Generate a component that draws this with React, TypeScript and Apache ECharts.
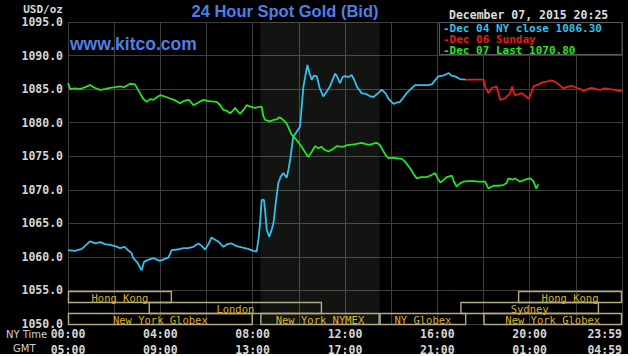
import React, { useEffect, useRef } from "react";
import * as echarts from "echarts";

// ---- data (hours after 00:00 NY time, USD/oz) ----
const dec04Hours = [0, 0.3, 0.6, 0.95, 1.2, 1.39, 1.6, 1.82, 2.05, 2.25, 2.45, 2.6, 2.75, 2.83, 3.0, 3.19, 3.3, 3.5, 3.7, 3.85, 3.99, 4.2, 4.35, 4.49, 4.75, 5.0, 5.2, 5.43, 5.65, 5.8, 5.94, 6.1, 6.22, 6.35, 6.51, 6.73, 6.9, 7.09, 7.3, 7.53, 7.8, 8.03, 8.17, 8.25, 8.32, 8.39, 8.49, 8.55, 8.61, 8.72, 8.8, 8.9, 9.0, 9.11, 9.22, 9.33, 9.47, 9.55, 9.62, 9.76, 9.9, 10.05, 10.2, 10.37, 10.45, 10.56, 10.65, 10.78, 10.9, 11.06, 11.2, 11.35, 11.57, 11.64, 11.78, 11.9, 12.0, 12.15, 12.29, 12.4, 12.51, 12.72, 12.9, 13.05, 13.23, 13.4, 13.59, 13.75, 13.88, 14.1, 14.25, 14.38, 14.5, 14.67, 14.85, 15.03, 15.2, 15.39, 15.6, 15.76, 15.9, 16.04, 16.25, 16.5, 16.6, 16.77, 16.98, 17.23];
const dec04Values = [1061.0, 1060.9, 1061.2, 1062.3, 1062.0, 1062.2, 1061.9, 1061.8, 1061.6, 1061.3, 1061.5, 1061.0, 1060.6, 1059.8, 1059.2, 1058.0, 1059.3, 1059.6, 1059.8, 1059.6, 1059.4, 1059.7, 1059.9, 1061.0, 1061.1, 1061.3, 1061.3, 1061.5, 1062.0, 1061.6, 1061.1, 1062.0, 1062.9, 1062.6, 1062.3, 1061.5, 1061.9, 1062.0, 1061.6, 1061.4, 1061.2, 1060.9, 1060.8, 1062.5, 1065.0, 1068.5, 1068.5, 1066.5, 1064.0, 1063.0, 1063.8, 1065.0, 1068.0, 1071.0, 1072.0, 1072.5, 1071.8, 1073.0, 1074.4, 1077.9, 1078.6, 1079.4, 1085.4, 1088.6, 1087.5, 1086.4, 1087.0, 1086.9, 1085.2, 1083.9, 1084.6, 1085.4, 1087.3, 1087.0, 1085.9, 1086.8, 1086.95, 1086.8, 1087.1, 1086.4, 1085.4, 1084.4, 1084.3, 1084.0, 1083.8, 1084.3, 1084.9, 1084.4, 1083.6, 1082.8, 1083.0, 1083.1, 1083.6, 1084.4, 1085.0, 1085.6, 1085.6, 1085.6, 1085.6, 1085.7, 1086.3, 1086.9, 1087.0, 1087.4, 1087.0, 1086.9, 1086.5, 1086.4];

const dec06Hours = [17.23, 17.6, 18.0, 18.07, 18.21, 18.36, 18.5, 18.57, 18.72, 18.93, 19.15, 19.24, 19.3, 19.37, 19.5, 19.66, 19.8, 19.95, 20.05, 20.16, 20.38, 20.55, 20.74, 20.9, 21.1, 21.3, 21.46, 21.6, 21.82, 22.04, 22.2, 22.33, 22.5, 22.69, 22.9, 23.05, 23.25, 23.48, 23.7, 23.92, 24];
const dec06Values = [1086.4, 1086.4, 1086.4, 1085.4, 1084.4, 1085.2, 1085.3, 1085.4, 1083.4, 1083.6, 1084.4, 1085.4, 1084.6, 1084.1, 1084.2, 1084.4, 1084.0, 1083.6, 1084.2, 1085.4, 1085.7, 1086.0, 1086.1, 1086.3, 1086.1, 1085.6, 1085.1, 1085.3, 1085.5, 1085.2, 1085.0, 1084.7, 1085.0, 1085.2, 1085.0, 1084.9, 1085.1, 1085.0, 1084.9, 1084.7, 1084.8];

const dec07Hours = [0, 0.1, 0.3, 0.52, 0.75, 0.95, 1.15, 1.39, 1.6, 1.82, 2.05, 2.25, 2.45, 2.69, 2.9, 3.12, 3.25, 3.41, 3.55, 3.7, 3.85, 3.99, 4.2, 4.42, 4.6, 4.85, 5.0, 5.21, 5.3, 5.43, 5.65, 5.86, 6.1, 6.44, 6.6, 6.73, 6.85, 7.02, 7.15, 7.24, 7.35, 7.45, 7.6, 7.74, 7.9, 8.1, 8.25, 8.39, 8.46, 8.54, 8.75, 8.9, 9.04, 9.15, 9.26, 9.47, 9.69, 9.91, 10.12, 10.25, 10.41, 10.55, 10.7, 10.85, 10.99, 11.1, 11.28, 11.45, 11.64, 11.9, 12.05, 12.22, 12.45, 12.72, 12.9, 13.08, 13.25, 13.37, 13.5, 13.59, 13.75, 13.88, 14.05, 14.24, 14.46, 14.6, 14.82, 15.0, 15.11, 15.3, 15.54, 15.7, 15.9, 16.0, 16.12, 16.25, 16.41, 16.63, 16.72, 16.84, 17.0, 17.13, 17.35, 17.56, 17.8, 18.07, 18.21, 18.43, 18.65, 18.86, 19.0, 19.08, 19.25, 19.37, 19.58, 19.8, 20.02, 20.16, 20.28, 20.38];
const dec07Values = [1085.9, 1085.0, 1085.1, 1085.0, 1085.3, 1085.6, 1085.2, 1084.9, 1085.0, 1085.2, 1085.3, 1085.4, 1085.3, 1085.8, 1085.7, 1084.4, 1083.6, 1083.1, 1083.5, 1083.4, 1083.8, 1084.1, 1083.9, 1083.6, 1083.4, 1082.9, 1083.2, 1083.4, 1083.2, 1082.6, 1083.0, 1083.4, 1083.2, 1083.1, 1082.6, 1081.9, 1081.8, 1081.4, 1081.8, 1082.2, 1081.7, 1081.3, 1081.9, 1082.6, 1082.4, 1082.2, 1082.3, 1082.4, 1081.0, 1080.4, 1080.2, 1080.4, 1080.5, 1080.8, 1080.6, 1079.9, 1078.2, 1077.4, 1076.4, 1075.7, 1074.9, 1075.6, 1076.5, 1076.2, 1076.4, 1076.0, 1075.7, 1076.0, 1076.5, 1076.4, 1076.6, 1076.7, 1076.8, 1077.0, 1076.8, 1076.7, 1076.9, 1077.0, 1076.7, 1076.2, 1075.2, 1074.7, 1074.8, 1074.7, 1074.6, 1074.2, 1073.2, 1072.2, 1071.7, 1071.9, 1071.9, 1072.1, 1072.5, 1071.8, 1071.1, 1071.4, 1071.9, 1072.1, 1071.2, 1070.5, 1071.0, 1071.2, 1071.3, 1071.3, 1071.2, 1071.2, 1070.2, 1070.6, 1070.6, 1070.7, 1071.0, 1071.7, 1071.5, 1071.7, 1071.2, 1071.5, 1071.7, 1071.3, 1070.2, 1070.8];

const legendLabels = ["-Dec 04 NY close 1086.30", "-Dec 06 Sunday", "-Dec 07 Last 1070.80"];
const nyTimeLabels = ["00:00", "04:00", "08:00", "12:00", "16:00", "20:00", "23:59"];
const gmtLabels = ["05:00", "09:00", "13:00", "17:00", "21:00", "01:00", "04:59"];

// market sessions: start hour, end hour, row (0 = top)
const marketNames = ["Hong Kong", "London", "New York Globex", "New York NYMEX", "NY Globex", "Sydney", "Hong Kong", "New York Globex"];
const marketStart = [0, 3.5, 0, 8.333, 13.5, 17, 19.5, 18];
const marketEnd = [4.5, 11, 8, 13.5, 17.25, 23, 24, 24];
const marketRow = [0, 1, 2, 2, 2, 1, 0, 2];

const nymexShade = [8.333, 13.5];

const title = "24 Hour Spot Gold (Bid)";
const site = "www.kitco.com";
const stamp = "December 07, 2015 20:25";

const C_CYAN = "#33c0ec";
const C_RED = "#e81c1c";
const C_GREEN = "#22e622";
const MONO = '"DejaVu Sans Mono", monospace';

function pair(h: number[], v: number[]) {
  return h.map((x, i) => [x, v[i]]);
}

export default function App() {
  const ref = useRef<HTMLDivElement>(null);
  useEffect(() => {
    if (!ref.current) return;
    const chart = echarts.init(ref.current, null, { renderer: "svg" });
    const marketData = marketNames.map((n, i) => [marketStart[i], marketEnd[i], marketRow[i]]);
    const option: any = {
      animation: false,
      backgroundColor: "transparent",
      grid: { left: 68, right: 12, top: 22, bottom: 32, outerBoundsMode: "none" },
      xAxis: [
        {
          type: "value", min: 0, max: 24, interval: 2, position: "bottom",
          axisLine: { show: false }, axisTick: { show: false },
          splitLine: { show: true, lineStyle: { color: "#3e3e3e", width: 1 } },
          axisLabel: {
            margin: 4, color: "#d6d6d6", fontFamily: MONO, fontWeight: "bold", fontSize: 11.5,
            showMaxLabel: true, alignMaxLabel: "right",
            formatter: (v: number) => (v % 4 === 0 ? nyTimeLabels[v / 4] : ""),
          },
        },
        {
          type: "value", min: 0, max: 24, interval: 2, position: "bottom", offset: 15.5,
          axisLine: { show: false }, axisTick: { show: false }, splitLine: { show: false },
          axisLabel: {
            margin: 4, color: "#d6d6d6", fontFamily: MONO, fontWeight: "bold", fontSize: 11.5,
            showMaxLabel: true, alignMaxLabel: "right",
            formatter: (v: number) => (v % 4 === 0 ? gmtLabels[v / 4] : ""),
          },
        },
      ],
      yAxis: {
        type: "value", min: 1050, max: 1095, interval: 5,
        axisLine: { show: false }, axisTick: { show: false },
        splitLine: { show: true, lineStyle: { color: "#3e3e3e", width: 1 } },
        axisLabel: {
          margin: 5, color: "#d6d6d6", fontFamily: MONO, fontWeight: "bold", fontSize: 11.5,
          formatter: (v: number) => v.toFixed(1),
        },
      },
      series: [
        {
          type: "line", name: "shade", data: [], silent: true,
          markArea: {
            silent: true,
            itemStyle: { color: "rgba(205,235,205,0.085)" },
            data: [[{ xAxis: nymexShade[0] }, { xAxis: nymexShade[1] }]],
          },
        },
        {
          type: "custom", silent: true, z: 3,
          data: marketData,
          renderItem: (params: any, api: any) => {
            const s = api.value(0), e = api.value(1), row = api.value(2);
            const p0 = api.coord([s, 1050]);
            const p1 = api.coord([e, 1050]);
            const rowH = 11;
            const yTop = p0[1] - (3 - row) * rowH;
            const name = marketNames[params.dataIndex];
            return {
              type: "group",
              children: [
                {
                  type: "rect",
                  shape: { x: p0[0] + 0.5, y: yTop + 0.5, width: p1[0] - p0[0] - 1, height: rowH },
                  style: { fill: "none", stroke: "#b4ab7e", lineWidth: 1.4 },
                },
                {
                  type: "text",
                  style: {
                    text: name, x: (p0[0] + p1[0]) / 2, y: yTop + rowH / 2 + 1,
                    align: "center", verticalAlign: "middle", textAlign: "center", textVerticalAlign: "middle",
                    fill: "#deb022", font: '10.5px "DejaVu Sans Mono"',
                  },
                },
              ],
            };
          },
        },
        { type: "line", name: "Dec 04", data: pair(dec04Hours, dec04Values), showSymbol: false, z: 5, lineStyle: { color: C_CYAN, width: 1.8 } },
        { type: "line", name: "Dec 06", data: pair(dec06Hours, dec06Values), showSymbol: false, z: 5, lineStyle: { color: C_RED, width: 1.8 } },
        { type: "line", name: "Dec 07", data: pair(dec07Hours, dec07Values), showSymbol: false, z: 6, lineStyle: { color: C_GREEN, width: 1.8 } },
      ],
      graphic: [
        {
          type: "rect", z: 10, shape: { x: 439.5, y: 22.5, width: 182.5, height: 32 },
          style: { fill: "#000", stroke: "#5a5a5a", lineWidth: 1 },
        },
        {
          type: "text", z: 11, x: 285, y: 11,
          style: { text: title, fill: "#4d7fea", font: 'bold 16.5px "Liberation Sans", Arial, sans-serif', textAlign: "center", textVerticalAlign: "middle", align: "center", verticalAlign: "middle" },
        },
        {
          type: "text", z: 11, x: 70, y: 44,
          style: { text: site, fill: "#4d7fea", font: 'bold 17.5px "Liberation Sans", Arial, sans-serif', textAlign: "left", textVerticalAlign: "middle", align: "left", verticalAlign: "middle" },
        },
        {
          type: "text", z: 11, x: 63, y: 9,
          style: { text: "USD/oz", fill: "#d6d6d6", font: `bold 11px ${MONO}`, textAlign: "right", textVerticalAlign: "middle", align: "right", verticalAlign: "middle" },
        },
        {
          type: "text", z: 11, x: 449, y: 15,
          style: { text: stamp, fill: "#dcdcdc", font: `bold 11.5px ${MONO}`, textAlign: "left", textVerticalAlign: "middle", align: "left", verticalAlign: "middle" },
        },
        ...legendLabels.map((t, i) => ({
          type: "text", z: 11, x: 443, y: 28 + i * 11,
          style: { text: t, fill: [C_CYAN, C_RED, C_GREEN][i], font: `bold 11px ${MONO}`, textAlign: "left", textVerticalAlign: "middle", align: "left", verticalAlign: "middle" },
        })),
        {
          type: "text", z: 11, x: 6, y: 334,
          style: { text: "NY Time", fill: "#d0d0d0", font: '10px "DejaVu Sans", sans-serif', textAlign: "left", textVerticalAlign: "middle", align: "left", verticalAlign: "middle" },
        },
        {
          type: "text", z: 11, x: 13, y: 348,
          style: { text: "GMT", fill: "#d0d0d0", font: '10px "DejaVu Sans", sans-serif', textAlign: "left", textVerticalAlign: "middle", align: "left", verticalAlign: "middle" },
        },
      ],
    };
    chart.setOption(option);
    return () => chart.dispose();
  }, []);

  return (
    <div style={{ position: "fixed", left: 0, top: 0, width: 634, height: 356, background: "#fff" }}>
      <div style={{ position: "absolute", left: 0, top: 0, width: 628, height: 354, background: "#000" }} />
      <div ref={ref} style={{ position: "absolute", left: 0, top: 0, width: 634, height: 356 }} />
    </div>
  );
}
